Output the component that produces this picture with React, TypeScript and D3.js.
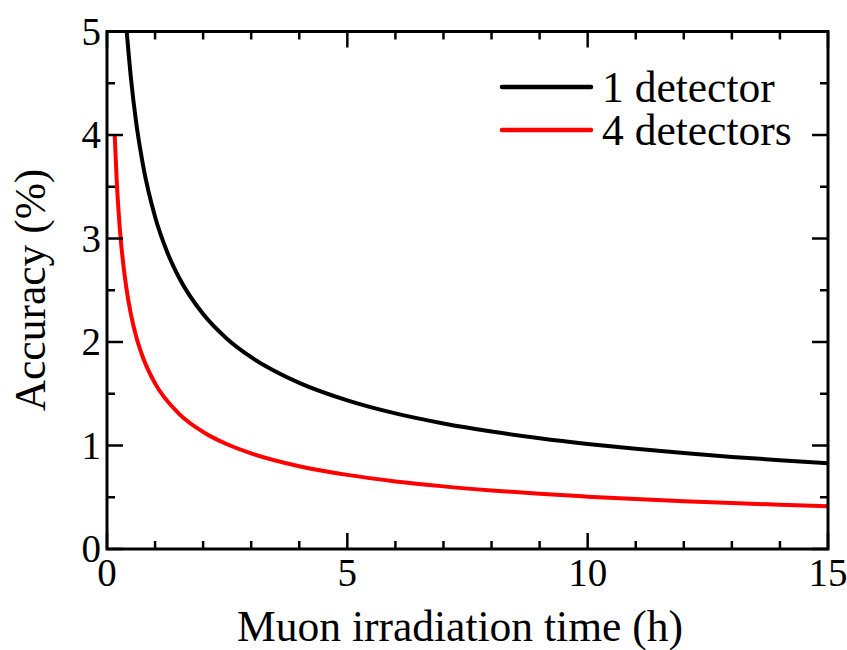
import React from "react";
import * as d3 from "d3";

const series1Time = [0.41, 0.5, 0.6, 0.75, 1, 1.25, 1.5, 2, 2.5, 3, 4, 5, 6, 7, 8, 9, 10, 11, 12, 13, 14, 15];
const series1Acc = [5.0, 4.54, 4.144, 3.707, 3.21, 2.871, 2.621, 2.27, 2.03, 1.853, 1.605, 1.436, 1.31, 1.213, 1.135, 1.07, 1.015, 0.968, 0.927, 0.89, 0.858, 0.829];
const series4Time = [0.16, 0.2, 0.25, 0.3, 0.4, 0.5, 0.6, 0.75, 1, 1.5, 2, 2.5, 3, 4, 5, 6, 7, 8, 9, 10, 11, 12, 13, 14, 15];
const series4Acc = [4.0, 3.578, 3.2, 2.921, 2.53, 2.263, 2.066, 1.848, 1.6, 1.306, 1.131, 1.012, 0.924, 0.8, 0.716, 0.653, 0.605, 0.566, 0.533, 0.506, 0.482, 0.462, 0.444, 0.428, 0.413];
const seriesNames = ["1 detector", "4 detectors"];
const seriesColors = ["#000000", "#ff0000"];
const xMajorTicks = [0, 5, 10, 15];
const yMajorTicks = [0, 1, 2, 3, 4, 5];
const xLabel = "Muon irradiation time (h)";
const yLabel = "Accuracy (%)";

export default function App() {
  const W = 847, H = 650;
  const L = 107, R = 828, T = 31.5, B = 549;
  const x = d3.scaleLinear().domain([0, 15]).range([L, R]);
  const y = d3.scaleLinear().domain([0, 5]).range([B, T]);
  const line = d3.line<[number, number]>().x(d => x(d[0])).y(d => y(d[1])).curve(d3.curveMonotoneX);
  const d1 = line(series1Time.map((t, i) => [t, series1Acc[i]]));
  const d4 = line(series4Time.map((t, i) => [t, series4Acc[i]]));
  const xMinor = d3.range(1, 15).filter(v => v % 5 !== 0);
  const yMinor = d3.range(0.5, 5, 1);
  const font = "'Liberation Serif', 'Times New Roman', serif";
  const major = 16, minor = 8;
  return (
    <svg width={W} height={H} style={{ position: "absolute", left: 0, top: 0, background: "#fff" }} fontFamily={font}>
      <defs>
        <clipPath id="clip"><rect x={L} y={T - 2} width={R - L} height={B - T + 2} /></clipPath>
      </defs>
      <g clipPath="url(#clip)" fill="none" strokeWidth={4}>
        <path d={d1 || ""} stroke={seriesColors[0]} />
        <path d={d4 || ""} stroke={seriesColors[1]} />
      </g>
      <g stroke="#000" strokeWidth={2.5}>
        {xMinor.map(v => (
          <g key={"xm" + v}>
            <line x1={x(v)} x2={x(v)} y1={B} y2={B - minor} />
            <line x1={x(v)} x2={x(v)} y1={T} y2={T + minor} />
          </g>
        ))}
        {xMajorTicks.map(v => (
          <g key={"xM" + v}>
            <line x1={x(v)} x2={x(v)} y1={B} y2={B - major} />
            <line x1={x(v)} x2={x(v)} y1={T} y2={T + major} />
          </g>
        ))}
        {yMinor.map(v => (
          <g key={"ym" + v}>
            <line x1={L} x2={L + minor} y1={y(v)} y2={y(v)} />
            <line x1={R} x2={R - minor} y1={y(v)} y2={y(v)} />
          </g>
        ))}
        {yMajorTicks.map(v => (
          <g key={"yM" + v}>
            <line x1={L} x2={L + major} y1={y(v)} y2={y(v)} />
            <line x1={R} x2={R - major} y1={y(v)} y2={y(v)} />
          </g>
        ))}
        <rect x={L} y={T} width={R - L} height={B - T} fill="none" strokeWidth={3} />
      </g>
      <g fontSize={39} fill="#000">
        {xMajorTicks.map(v => (
          <text key={"xl" + v} x={x(v)} y={B + 37} textAnchor="middle">{v}</text>
        ))}
        {yMajorTicks.map(v => (
          <text key={"yl" + v} x={L - 6} y={y(v) + 13} textAnchor="end">{v}</text>
        ))}
      </g>
      <text x={460} y={641} textAnchor="middle" fontSize={43.5}>{xLabel}</text>
      <text transform={`translate(${45},${290}) rotate(-90)`} textAnchor="middle" fontSize={43.5}>{yLabel}</text>
      <g>
        {seriesNames.map((n, i) => (
          <g key={n}>
            <line x1={502} x2={591} y1={87 + i * 43} y2={87 + i * 43} stroke={seriesColors[i]} strokeWidth={4.5} strokeLinecap="round" />
            <text x={602} y={87 + i * 43 + 15} fontSize={43.5}>{n}</text>
          </g>
        ))}
      </g>
    </svg>
  );
}
